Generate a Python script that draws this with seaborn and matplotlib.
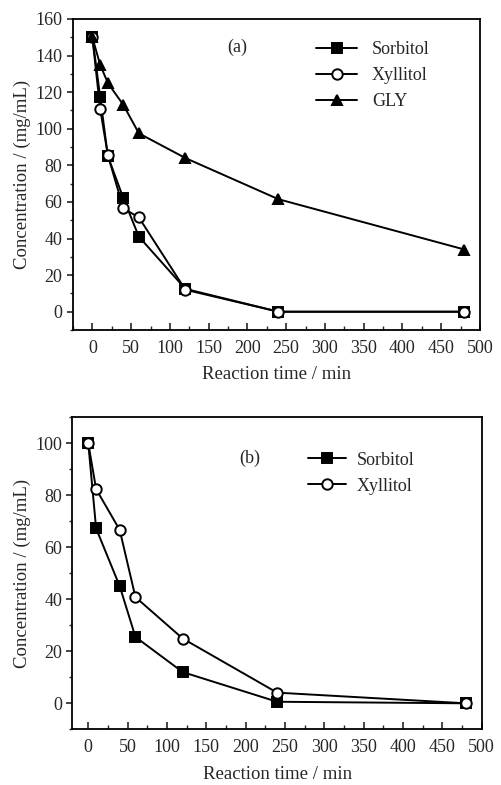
import numpy as np
import pandas as pd
import matplotlib
matplotlib.use('Agg')
import matplotlib.pyplot as plt
from matplotlib.ticker import MultipleLocator
import seaborn as sns

sns.set_style('ticks')
plt.rcParams['font.family'] = ['Liberation Serif', 'DejaVu Serif']

# panel (a)
time_a = [0, 10, 20, 40, 60, 120, 240, 480]
sorbitol_a = [150, 117.5, 85, 62, 41, 12.5, 0, 0]
xylitol_a = [150, 111, 85.5, 56.5, 51.5, 12, 0, 0]
gly_a = [150, 135, 125, 113, 97.5, 84, 61.5, 34]

# panel (b)
time_b = [0, 10, 40, 60, 120, 240, 480]
sorbitol_b = [100, 67.2, 45, 25.5, 12, 0.6, 0]
xylitol_b = [100, 82.3, 66.6, 40.8, 24.9, 4.1, 0]

fig = plt.figure(figsize=(5.01, 7.85), dpi=100)
ax1 = fig.add_axes([0.1457, 0.5796, 0.8123, 0.3962])
ax2 = fig.add_axes([0.1447, 0.0709, 0.8168, 0.3979])

style = dict(color='black', linewidth=1.4, markersize=7.5, markeredgecolor='black', markeredgewidth=1.4)

sns.lineplot(x=time_a, y=sorbitol_a, marker='s', markerfacecolor='black', label='Sorbitol', ax=ax1, **style)
sns.lineplot(x=time_a, y=xylitol_a, marker='o', markerfacecolor='white', label='Xyllitol', ax=ax1, **style)
sns.lineplot(x=time_a, y=gly_a, marker='^', markerfacecolor='black', label='GLY', ax=ax1, **style)

sns.lineplot(x=time_b, y=sorbitol_b, marker='s', markerfacecolor='black', label='Sorbitol', ax=ax2, **style)
sns.lineplot(x=time_b, y=xylitol_b, marker='o', markerfacecolor='white', label='Xyllitol', ax=ax2, **style)

ax1.set_xlim(-25, 500)
ax1.set_ylim(-10, 160)
ax2.set_xlim(-20, 500)
ax2.set_ylim(-10, 110)

for ax in (ax1, ax2):
    ax.xaxis.set_major_locator(MultipleLocator(50))
    ax.xaxis.set_minor_locator(MultipleLocator(25))
    ax.yaxis.set_major_locator(MultipleLocator(20))
    ax.yaxis.set_minor_locator(MultipleLocator(10))
    for s in ax.spines.values():
        s.set_linewidth(1.3)
        s.set_color('black')
    ax.tick_params(axis='x', which='major', direction='in', length=5, width=1.2, labelsize=13, pad=7)
    ax.tick_params(axis='x', which='minor', direction='in', length=3, width=1.0)
    ax.tick_params(axis='y', which='major', direction='out', length=4, width=1.2, labelsize=13)
    ax.tick_params(axis='y', which='minor', direction='out', length=2.5, width=1.0)
    ax.set_xlabel('Reaction time / min', fontsize=13.5, labelpad=7)
    ax.set_ylabel('Concentration / (mg/mL)', fontsize=13.5, labelpad=3)

ax1.legend(loc='upper left', bbox_to_anchor=(0.597, 0.929), frameon=False, fontsize=13,
           handlelength=2.3, handletextpad=0.8, labelspacing=0.5, borderaxespad=0, borderpad=0)
ax2.legend(loc='upper left', bbox_to_anchor=(0.576, 0.889), frameon=False, fontsize=13,
           handlelength=2.1, handletextpad=0.6, labelspacing=0.5, borderaxespad=0, borderpad=0)

ax1.text(0.403, 0.91, '(a)', transform=ax1.transAxes, ha='center', va='center', fontsize=13)
ax2.text(0.434, 0.869, '(b)', transform=ax2.transAxes, ha='center', va='center', fontsize=13)

fig.savefig('out.png', dpi=100)
